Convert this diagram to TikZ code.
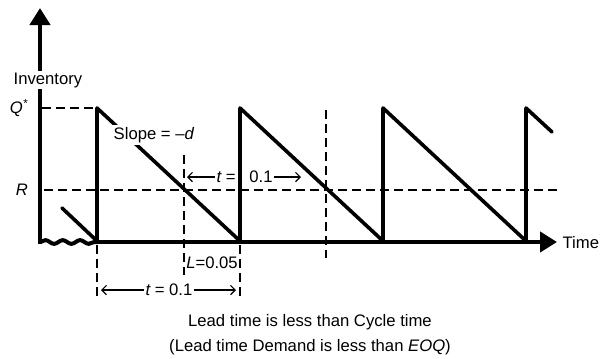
\documentclass[tikz,border=0pt]{standalone}
\usepackage{fontspec}
\setmainfont{Liberation Sans}
\usetikzlibrary{arrows.meta,decorations.pathmorphing}
\begin{document}
\begin{tikzpicture}[x=0.75pt,y=-0.75pt,
  lbl/.style={font=\fontsize{12.5}{14}\selectfont, inner sep=1pt},
  axisline/.style={line width=3.6pt},
  axisarrow/.style={line width=3.6pt, -{Triangle[length=12.75pt,width=15pt]}},
  saw/.style={line width=2.7pt, line join=round, line cap=round},
  guide/.style={line width=0.9pt, dash pattern=on 7pt off 3.5pt},
  dimarrow/.style={line width=0.8pt, -{Straight Barb[length=3.5pt,width=7pt]}}]
\useasboundingbox (0,0) rectangle (608,358);

% named points
\coordinate (ytop) at (40,8);
\coordinate (ybot) at (40,244);
\coordinate (xstart) at (40,242);
\coordinate (xwave) at (97,242);
\coordinate (xend) at (557,242);

% guides (dashed)
\draw[guide] (42,108) -- (95,108);
\draw[guide] (44,190) -- (560,190);
\draw[guide] (97,245) -- (97,298);
\draw[guide] (184,155) -- (184,275);
\draw[guide] (240,245) -- (240,298);
\draw[guide] (326,110) -- (326,258);

% axes
\node[lbl] (inv) at (48,80) {Inventory};
\draw[axisline] (ybot) -- (inv.south -| ybot);
\draw[axisarrow] (inv.north -| ybot) -- (ytop);
\draw[line width=3pt, line cap=round, decorate, decoration={snake, amplitude=1.4pt, segment length=13pt}] (xstart) -- (xwave);
\draw[axisarrow] (xwave) -- (xend);
\node[lbl, anchor=west] (time) at (561,243) {Time};

% sawtooth
\coordinate (s0) at (62,208);
\coordinate (b1) at (97,241);  \coordinate (p1) at (97,108);
\coordinate (b2) at (240,241); \coordinate (p2) at (240,108);
\coordinate (b3) at (383,241); \coordinate (p3) at (383,108);
\coordinate (b4) at (526,241); \coordinate (p4) at (526,108);
\coordinate (s5) at (552,132);
\draw[saw] (s0) -- (b1) -- (p1) -- (b2) -- (p2) -- (b3) -- (p3) -- (b4) -- (p4) -- (s5);

% labels
\node[lbl] (qstar) at (19,108) {\itshape Q\textsuperscript{*}};
\node[lbl] (rlab) at (22,190) {\itshape R};
\node[lbl, fill=white, inner sep=2pt] (slope) at (154,135) {Slope = –\textit{d}};

\node[lbl] (teq) at (226,177) {\itshape t \upshape =};
\node[lbl] (tval) at (261,177) {0.1};
\coordinate (tl) at (187,177);
\coordinate (tr) at (301,177);
\draw[dimarrow] (teq.west) -- (tl);
\draw[dimarrow] (tval.east) -- (tr);

\node[lbl, inner sep=0pt] (lval) at (212,263) {\itshape L\upshape =0.05};

\node[lbl] (tbot) at (169,290) {\itshape t \upshape = 0.1};
\coordinate (bl) at (101,290);
\coordinate (br) at (236,290);
\draw[dimarrow] (tbot.west) -- (bl);
\draw[dimarrow] (tbot.east) -- (br);

\node[lbl] (cap1) at (310,322) {Lead time is less than Cycle time};
\node[lbl] (cap2) at (310,347) {(Lead time Demand is less than \textit{EOQ})};
\end{tikzpicture}
\end{document}
